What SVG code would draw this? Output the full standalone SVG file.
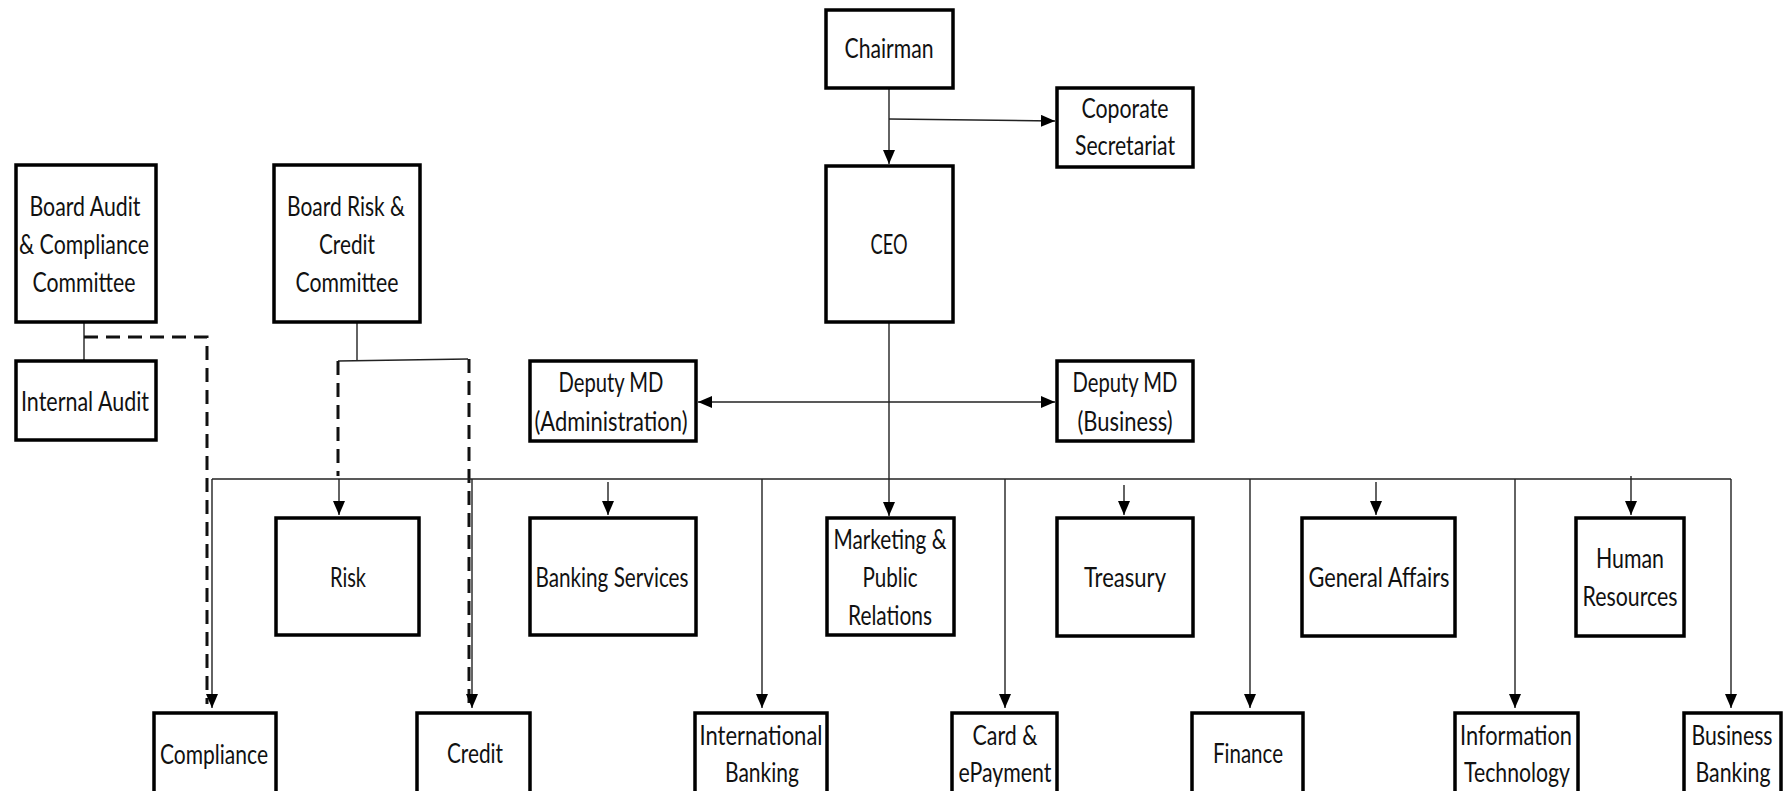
<svg xmlns="http://www.w3.org/2000/svg" width="1784" height="791" viewBox="0 0 1784 791">
<defs>
<style>
.box{fill:#fff;stroke:#000;stroke-width:3.5}
.t{font-family:Lato,"Liberation Sans",sans-serif;font-size:26px;fill:#111;text-anchor:middle}
.c{fill:none;stroke:#222;stroke-width:1.4}
.d{fill:none;stroke:#111;stroke-width:3;stroke-dasharray:14 8}
</style>
<marker id="ah" markerUnits="userSpaceOnUse" markerWidth="14" markerHeight="12" refX="14" refY="6" orient="auto-start-reverse"><path d="M0,0 L14,6 L0,12 z" fill="#000"/></marker>
</defs>
<rect width="1784" height="791" fill="#fff"/>

<g id="connectors">
<line class="c" x1="889" y1="89" x2="889" y2="164" marker-end="url(#ah)"/>
<line class="c" x1="889" y1="119" x2="1055" y2="121" marker-end="url(#ah)"/>
<line class="c" x1="889" y1="322" x2="889" y2="516" marker-end="url(#ah)"/>
<line class="c" x1="698" y1="402" x2="1055" y2="402" marker-start="url(#ah)" marker-end="url(#ah)"/>
<line class="c" x1="84" y1="322" x2="84" y2="361"/>
<polyline class="d" points="84,337 207,337 207,704"/>
<line class="c" x1="357" y1="322" x2="357" y2="360"/>
<line class="c" x1="338" y1="361" x2="468" y2="359"/>
<line class="d" x1="338" y1="361" x2="338" y2="476"/>
<line class="d" x1="469" y1="359" x2="469" y2="704"/>
<line class="c" x1="212" y1="479" x2="1731" y2="479"/>
<line class="c" x1="212" y1="479" x2="212" y2="708" marker-end="url(#ah)"/>
<line class="c" x1="472" y1="479" x2="472" y2="708" marker-end="url(#ah)"/>
<line class="c" x1="762" y1="479" x2="762" y2="708" marker-end="url(#ah)"/>
<line class="c" x1="1005" y1="479" x2="1005" y2="708" marker-end="url(#ah)"/>
<line class="c" x1="1250" y1="479" x2="1250" y2="708" marker-end="url(#ah)"/>
<line class="c" x1="1515" y1="479" x2="1515" y2="708" marker-end="url(#ah)"/>
<line class="c" x1="1731" y1="479" x2="1731" y2="708" marker-end="url(#ah)"/>
<line class="c" x1="339" y1="479" x2="339" y2="515" marker-end="url(#ah)"/>
<line class="c" x1="608" y1="482" x2="608" y2="515" marker-end="url(#ah)"/>
<line class="c" x1="1124" y1="485" x2="1124" y2="515" marker-end="url(#ah)"/>
<line class="c" x1="1376" y1="482" x2="1376" y2="515" marker-end="url(#ah)"/>
<line class="c" x1="1631" y1="476" x2="1631" y2="515" marker-end="url(#ah)"/>
</g>

<g id="chairman"><rect class="box" x="826" y="10" width="127" height="78"/><text class="t" x="889" y="58" textLength="89" lengthAdjust="spacingAndGlyphs">Chairman</text></g>
<g id="corporate-secretariat"><rect class="box" x="1057" y="88" width="136" height="79"/><text class="t" x="1125" y="118" textLength="87" lengthAdjust="spacingAndGlyphs">Coporate</text><text class="t" x="1125" y="155" textLength="100" lengthAdjust="spacingAndGlyphs">Secretariat</text></g>
<g id="ceo"><rect class="box" x="826" y="166" width="127" height="156"/><text class="t" x="889" y="254" textLength="37" lengthAdjust="spacingAndGlyphs">CEO</text></g>
<g id="board-audit"><rect class="box" x="16" y="165" width="140" height="157"/><text class="t" x="85" y="216" textLength="111" lengthAdjust="spacingAndGlyphs">Board Audit</text><text class="t" x="84" y="254" textLength="130" lengthAdjust="spacingAndGlyphs">&amp; Compliance</text><text class="t" x="84" y="292" textLength="103" lengthAdjust="spacingAndGlyphs">Committee</text></g>
<g id="board-risk"><rect class="box" x="274" y="165" width="146" height="157"/><text class="t" x="346" y="216" textLength="118" lengthAdjust="spacingAndGlyphs">Board Risk &amp;</text><text class="t" x="347" y="254" textLength="56" lengthAdjust="spacingAndGlyphs">Credit</text><text class="t" x="347" y="292" textLength="103" lengthAdjust="spacingAndGlyphs">Committee</text></g>
<g id="internal-audit"><rect class="box" x="16" y="361" width="140" height="79"/><text class="t" x="85" y="411" textLength="128" lengthAdjust="spacingAndGlyphs">Internal Audit</text></g>
<g id="deputy-md-admin"><rect class="box" x="530" y="361" width="166" height="80"/><text class="t" x="611" y="392" textLength="105" lengthAdjust="spacingAndGlyphs">Deputy MD</text><text class="t" x="611" y="431" textLength="153" lengthAdjust="spacingAndGlyphs">(Administration)</text></g>
<g id="deputy-md-business"><rect class="box" x="1057" y="361" width="136" height="80"/><text class="t" x="1125" y="392" textLength="105" lengthAdjust="spacingAndGlyphs">Deputy MD</text><text class="t" x="1125" y="431" textLength="95" lengthAdjust="spacingAndGlyphs">(Business)</text></g>
<g id="risk"><rect class="box" x="276" y="518" width="143" height="117"/><text class="t" x="348" y="587" textLength="36" lengthAdjust="spacingAndGlyphs">Risk</text></g>
<g id="banking-services"><rect class="box" x="530" y="518" width="166" height="117"/><text class="t" x="612" y="587" textLength="153" lengthAdjust="spacingAndGlyphs">Banking Services</text></g>
<g id="marketing"><rect class="box" x="827" y="518" width="127" height="117"/><text class="t" x="890" y="549" textLength="113" lengthAdjust="spacingAndGlyphs">Marketing &amp;</text><text class="t" x="890" y="587" textLength="55" lengthAdjust="spacingAndGlyphs">Public</text><text class="t" x="890" y="625" textLength="84" lengthAdjust="spacingAndGlyphs">Relations</text></g>
<g id="treasury"><rect class="box" x="1057" y="518" width="136" height="118"/><text class="t" x="1125" y="587" textLength="82" lengthAdjust="spacingAndGlyphs">Treasury</text></g>
<g id="general-affairs"><rect class="box" x="1302" y="518" width="153" height="118"/><text class="t" x="1379" y="587" textLength="141" lengthAdjust="spacingAndGlyphs">General Affairs</text></g>
<g id="human-resources"><rect class="box" x="1576" y="518" width="108" height="118"/><text class="t" x="1630" y="568" textLength="68" lengthAdjust="spacingAndGlyphs">Human</text><text class="t" x="1630" y="606" textLength="95" lengthAdjust="spacingAndGlyphs">Resources</text></g>
<g id="compliance"><rect class="box" x="154" y="713" width="122" height="100"/><text class="t" x="214" y="764" textLength="108" lengthAdjust="spacingAndGlyphs">Compliance</text></g>
<g id="credit"><rect class="box" x="417" y="713" width="113" height="100"/><text class="t" x="475" y="763" textLength="56" lengthAdjust="spacingAndGlyphs">Credit</text></g>
<g id="international-banking"><rect class="box" x="695" y="713" width="132" height="100"/><text class="t" x="761" y="745" textLength="123" lengthAdjust="spacingAndGlyphs">International</text><text class="t" x="762" y="782" textLength="74" lengthAdjust="spacingAndGlyphs">Banking</text></g>
<g id="card-epayment"><rect class="box" x="952" y="713" width="105" height="100"/><text class="t" x="1005" y="745" textLength="65" lengthAdjust="spacingAndGlyphs">Card &amp;</text><text class="t" x="1005" y="782" textLength="93" lengthAdjust="spacingAndGlyphs">ePayment</text></g>
<g id="finance"><rect class="box" x="1192" y="713" width="111" height="100"/><text class="t" x="1248" y="763" textLength="70" lengthAdjust="spacingAndGlyphs">Finance</text></g>
<g id="information-technology"><rect class="box" x="1455" y="713" width="123" height="100"/><text class="t" x="1516" y="745" textLength="112" lengthAdjust="spacingAndGlyphs">Information</text><text class="t" x="1517" y="782" textLength="106" lengthAdjust="spacingAndGlyphs">Technology</text></g>
<g id="business-banking"><rect class="box" x="1684" y="713" width="97" height="100"/><text class="t" x="1732" y="745" textLength="81" lengthAdjust="spacingAndGlyphs">Business</text><text class="t" x="1733" y="782" textLength="75" lengthAdjust="spacingAndGlyphs">Banking</text></g>
</svg>
